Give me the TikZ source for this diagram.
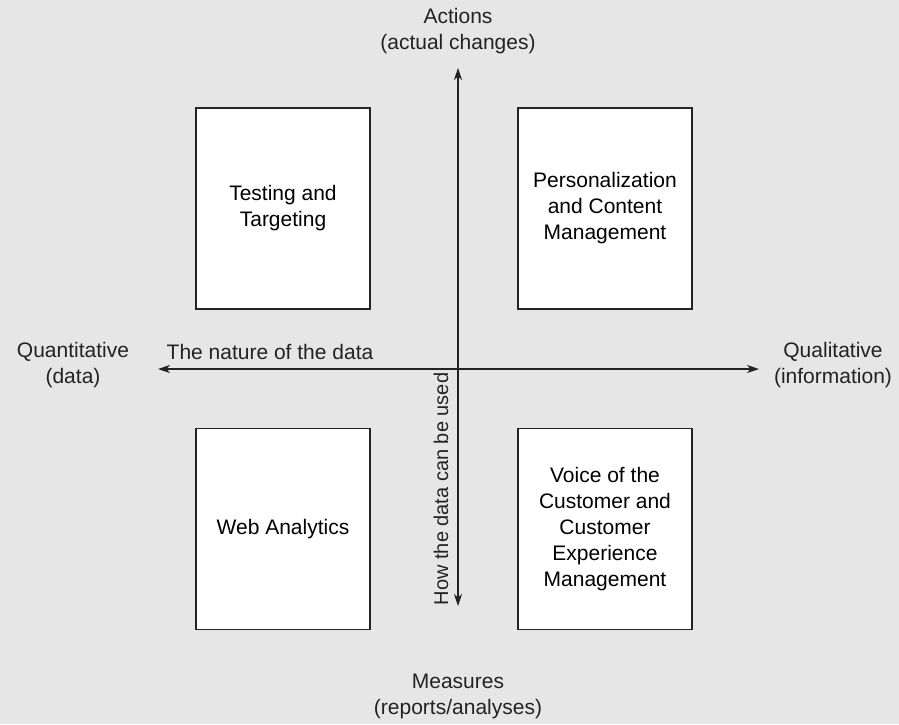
\documentclass[tikz,border=0pt]{standalone}
\usepackage{fontspec}
\setmainfont{Liberation Sans}
\usetikzlibrary{arrows.meta,positioning}
\definecolor{PageGray}{RGB}{230,230,230}
\definecolor{InkGray}{RGB}{35,35,35}

\tikzset{
  quadbox/.style={draw=InkGray,line width=1.3pt,fill=white,minimum width=174pt,minimum height=201pt,align=center,inner sep=0pt},
  axislabel/.style={align=center,text=InkGray},
  axisline/.style={InkGray,line width=1.1pt,{Stealth[length=12pt,width=8pt,inset=3.5pt]}-{Stealth[length=12pt,width=8pt,inset=3.5pt]}}
}

\begin{document}
\begin{tikzpicture}[x=1pt,y=1pt,font=\fontsize{21}{26}\selectfont]
  \fill[PageGray] (0,0) rectangle (899,-724);
  \useasboundingbox (0,0) rectangle (899,-724);

  % quadrants
  \node[quadbox] (testing) at (283,-208.5) {Testing and\\Targeting};
  \node[quadbox] (personal) at (605,-208.5) {Personalization\\and Content\\Management};
  \node[quadbox] (webana) at (283,-529) {Web Analytics};
  \node[quadbox] (voice) at (605,-529) {Voice of the\\Customer and\\Customer\\Experience\\Management};

  % axis ends
  \coordinate (ytop) at (458,-68);
  \coordinate (ybot) at (458,-606);
  \coordinate (xleft) at (158,-369);
  \coordinate (xright) at (759,-369);

  \draw[axisline] (ybot) -- (ytop);
  \draw[axisline] (xleft) -- (xright);

  % labels
  \node[axislabel] (actions) at (458,-31) {Actions\\(actual changes)};
  \node[axislabel] (measures) at (458,-696) {Measures\\(reports/analyses)};
  \node[axislabel] (quant) at (73,-365) {Quantitative\\(data)};
  \node[axislabel] (qual) at (833,-365) {Qualitative\\(information)};
  \node[axislabel] (nature) at (270,-352) {The nature of the data};
  \node[axislabel,rotate=90,font=\fontsize{20}{24}\selectfont] (howused) at (441,-489) {How the data can be used};
\end{tikzpicture}
\end{document}
